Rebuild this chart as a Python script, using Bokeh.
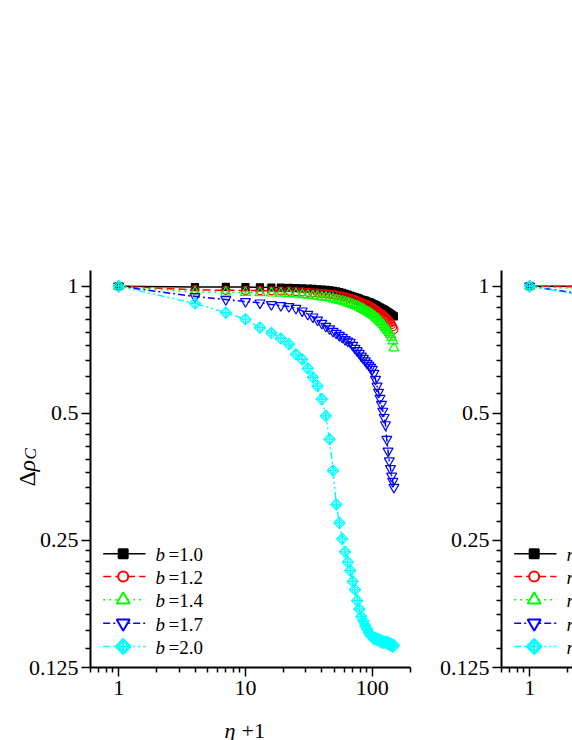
import math
from bokeh.plotting import figure
from bokeh.models import Range1d, FixedTicker, Label
from bokeh.layouts import row
from bokeh.embed import file_html
from bokeh.resources import INLINE

# ---------------- data ----------------
eta_plus_1 = [1, 4, 7, 10, 13, 16, 19, 22, 25, 28,
              31, 34, 37, 40, 43, 46, 49, 52, 55, 58,
              61, 64, 67, 70, 73, 76, 79, 82, 85, 88,
              91, 94, 97, 100, 103, 106, 109, 112, 115, 118,
              121, 124, 127, 130, 133, 136, 139, 142, 145, 148]

drho_b10 = [1.0, 0.995, 0.996, 0.995, 0.994, 0.993, 0.992, 0.991, 0.990, 0.988,
            0.987, 0.985, 0.983, 0.982, 0.980, 0.978, 0.975, 0.972, 0.968, 0.964,
            0.959, 0.955, 0.950, 0.946, 0.942, 0.938, 0.934, 0.930, 0.927, 0.924,
            0.920, 0.917, 0.914, 0.910, 0.906, 0.902, 0.898, 0.894, 0.890, 0.886,
            0.883, 0.879, 0.875, 0.871, 0.867, 0.863, 0.859, 0.855, 0.852, 0.848]

drho_b12 = [1.0, 0.980, 0.978, 0.977, 0.976, 0.975, 0.974, 0.973, 0.971, 0.969,
            0.967, 0.965, 0.963, 0.961, 0.959, 0.957, 0.955, 0.952, 0.949, 0.946,
            0.943, 0.940, 0.936, 0.932, 0.928, 0.924, 0.920, 0.916, 0.912, 0.908,
            0.904, 0.900, 0.895, 0.890, 0.885, 0.880, 0.875, 0.870, 0.865, 0.860,
            0.855, 0.849, 0.844, 0.838, 0.832, 0.826, 0.819, 0.811, 0.802, 0.790]

drho_b14 = [1.0, 0.968, 0.967, 0.966, 0.965, 0.963, 0.962, 0.960, 0.958, 0.955,
            0.952, 0.949, 0.946, 0.943, 0.940, 0.937, 0.933, 0.929, 0.925, 0.921,
            0.917, 0.913, 0.909, 0.905, 0.900, 0.896, 0.891, 0.886, 0.881, 0.876,
            0.871, 0.866, 0.861, 0.856, 0.850, 0.844, 0.838, 0.831, 0.824, 0.818,
            0.811, 0.804, 0.797, 0.790, 0.783, 0.776, 0.768, 0.757, 0.742, 0.714]

drho_b17 = [1.0, 0.945, 0.930, 0.920, 0.913, 0.905, 0.900, 0.895, 0.887, 0.874,
            0.858, 0.846, 0.832, 0.817, 0.804, 0.793, 0.782, 0.774, 0.765, 0.757,
            0.748, 0.742, 0.737, 0.725, 0.713, 0.704, 0.694, 0.683, 0.675, 0.666,
            0.657, 0.650, 0.643, 0.636, 0.622, 0.602, 0.580, 0.561, 0.543, 0.525,
            0.506, 0.489, 0.470, 0.434, 0.407, 0.386, 0.370, 0.355, 0.345, 0.334]

drho_b20 = [1.0, 0.910, 0.866, 0.835, 0.798, 0.775, 0.752, 0.729, 0.690, 0.671,
            0.639, 0.608, 0.580, 0.540, 0.493, 0.434, 0.366, 0.304, 0.275, 0.252,
            0.235, 0.222, 0.212, 0.200, 0.191, 0.180, 0.172, 0.165, 0.161, 0.157,
            0.154, 0.151, 0.149, 0.148, 0.146, 0.147, 0.145, 0.146, 0.144, 0.145,
            0.143, 0.144, 0.143, 0.144, 0.142, 0.143, 0.141, 0.142, 0.140, 0.141]

b_labels = ["=1.0", "=1.2", "=1.4", "=1.7", "=2.0"]

# right panel (only its first part is visible)
eta_plus_1_r = [1, 4]
drho_r1 = [1.0, 1.0]
drho_r2 = [1.0, 0.995]
drho_r3 = [1.0, 0.98]
drho_r4 = [1.0, 0.94]
drho_r5 = [1.0, 0.93]

x_major = [1, 10, 100]
x_major_labels = ["1", "10", "100"]
x_minor = [0.6, 0.7, 0.8, 0.9, 2, 3, 4, 5, 6, 7, 8, 9,
           20, 30, 40, 50, 60, 70, 80, 90, 200]
y_major = [0.125, 0.25, 0.5, 1]
y_major_labels = ["0.125", "0.25", "0.5", "1"]
y_minor = [a * (1 + k / 9.0) for a in (0.125, 0.25, 0.5) for k in range(1, 9)]

X_AXIS = (0.6, 200.0)      # extent of the drawn x axis
Y_AXIS = (0.125, 1.09)     # extent of the drawn y axis

# ---------------- styles / layout ----------------
colors = ["#000000", "#ff0000", "#00ff00", "#0000ff", "#00ffff"]
markers = ["square", "circle", "triangle", "inverted_triangle", "square_x"]
angles = [0, 0, 0, 0, math.pi / 4]
dashes = ["solid", "8 4", "2 4", "7 3 2 3", "7 3 2 3 2 3"]
msizes = [7, 8, 10, 10, 8]
leg_sizes = [9, 10, 13, 13, 10.5]

FONT = "Liberation Serif"
HC = 740                   # canvas height
PXD = 126.84               # pixels per decade on x
PXO = 127.1                # pixels per octave on y
AXIS_X_PX = 667            # y pixel of the x axis (value 0.125)


class Mapper:
    def __init__(self, canvas_left, canvas_width, axis_left_px):
        self.left = canvas_left
        self.x0 = X_AXIS[0] * 10 ** (-(axis_left_px - canvas_left) / PXD)
        self.x1 = X_AXIS[0] * 10 ** ((canvas_left + canvas_width - axis_left_px) / PXD)
        self.y0 = Y_AXIS[0] * 2 ** (-(HC - AXIS_X_PX) / PXO)
        self.y1 = Y_AXIS[0] * 2 ** (AXIS_X_PX / PXO)

    def fx(self, px):
        return self.x0 * 10 ** ((px - self.left) / PXD)

    def fy(self, py):
        return self.y0 * 2 ** ((HC - py) / PXO)


def make_fig(width, m):
    p = figure(width=width, height=HC, x_axis_type="log", y_axis_type="log",
               x_range=Range1d(m.x0, m.x1), y_range=Range1d(m.y0, m.y1),
               output_backend="svg", toolbar_location=None,
               min_border_left=0, min_border_right=0,
               min_border_top=0, min_border_bottom=0)
    p.grid.visible = False
    p.outline_line_color = None
    p.background_fill_color = "white"
    p.border_fill_color = "white"
    xa, ya = p.xaxis[0], p.yaxis[0]
    xa.fixed_location = Y_AXIS[0]
    ya.fixed_location = X_AXIS[0]
    xa.bounds = X_AXIS
    ya.bounds = Y_AXIS
    xa.ticker = FixedTicker(ticks=x_major, minor_ticks=x_minor)
    ya.ticker = FixedTicker(ticks=y_major, minor_ticks=y_minor)
    xa.major_label_overrides = dict(zip(x_major, x_major_labels))
    ya.major_label_overrides = dict(zip(y_major, y_major_labels))
    for ax in (xa, ya):
        ax.axis_line_width = 2
        ax.axis_line_color = "black"
        ax.major_tick_line_width = 1.5
        ax.minor_tick_line_width = 1.5
        ax.major_tick_line_color = "black"
        ax.minor_tick_line_color = "black"
        ax.major_tick_out = 9
        ax.major_tick_in = 0
        ax.minor_tick_out = 5
        ax.minor_tick_in = 0
        ax.major_label_text_font = FONT
        ax.major_label_text_font_size = "22px"
        ax.major_label_text_color = "black"
    xa.major_label_standoff = 4
    ya.major_label_standoff = 3
    return p


def draw_marker(p, xs, ys, i, size, lw, fill):
    c, mk = colors[i], markers[i]
    p.scatter(xs, ys, marker=mk, size=size, angle=angles[i], line_color=c,
              line_width=lw, fill_color=fill)
    if mk == "square_x":   # diamond with a circled cross
        p.scatter(xs, ys, marker="circle", size=size * 0.72, line_color=c,
                  line_width=lw * 0.8, fill_color=None)


def draw_series(p, xs, ys_list):
    for i, ys in enumerate(ys_list):
        p.line(xs, ys, line_color=colors[i], line_width=1.5, line_dash=dashes[i])
        draw_marker(p, xs, ys, i, msizes[i], 1.2,
                    colors[i] if markers[i] == "square" else None)


def draw_legend(p, m, axis_left_px, sym, texts):
    rows = [553.3, 576.0, 599.3, 622.7, 646.0]
    for i, ry in enumerate(rows):
        p.line([m.fx(axis_left_px + 12.7), m.fx(axis_left_px + 55)],
               [m.fy(ry), m.fy(ry)], line_color=colors[i], line_width=1.5,
               line_dash=dashes[i])
        draw_marker(p, [m.fx(axis_left_px + 32.7)], [m.fy(ry)], i, leg_sizes[i], 2,
                    colors[i] if markers[i] == "square" else "white")
        p.add_layout(Label(x=m.fx(axis_left_px + 65), y=m.fy(ry + 1), text=sym,
                           text_font=FONT, text_font_size="19px",
                           text_font_style="italic", text_baseline="middle",
                           text_align="left", text_color="black"))
        if texts:
            p.add_layout(Label(x=m.fx(axis_left_px + 78), y=m.fy(ry + 1),
                               text=texts[i], text_font=FONT,
                               text_font_size="19px", text_baseline="middle",
                               text_align="left", text_color="black"))


# ---------------- left panel ----------------
W1 = 430
m1 = Mapper(0, W1, 90)
p1 = make_fig(W1, m1)
draw_series(p1, eta_plus_1, [drho_b10, drho_b12, drho_b14, drho_b17, drho_b20])
draw_legend(p1, m1, 90, "b", b_labels)

# y axis title  (Δρ_C)
p1.add_layout(Label(x=m1.fx(26), y=m1.fy(486), text="Δ", text_font=FONT,
                    text_font_size="24px", angle=math.pi / 2,
                    text_baseline="alphabetic", text_align="left",
                    text_color="black"))
p1.add_layout(Label(x=m1.fx(26), y=m1.fy(471), text="ρ", text_font=FONT,
                    text_font_size="24px", text_font_style="italic",
                    angle=math.pi / 2, text_baseline="alphabetic",
                    text_align="left", text_color="black"))
p1.add_layout(Label(x=m1.fx(30), y=m1.fy(459), text="C", text_font=FONT,
                    text_font_size="17px", text_font_style="italic",
                    angle=math.pi / 2, text_baseline="alphabetic",
                    text_align="left", text_color="black"))
# x axis title  (η +1)
p1.add_layout(Label(x=m1.fx(224), y=m1.fy(730), text="η", text_font=FONT,
                    text_font_size="22px", text_font_style="italic",
                    text_baseline="alphabetic", text_align="left",
                    text_color="black"))
p1.add_layout(Label(x=m1.fx(241), y=m1.fy(730), text="+1", text_font=FONT,
                    text_font_size="22px", text_baseline="alphabetic",
                    text_align="left", text_color="black"))

# ---------------- right panel (cut by the window edge) ----------------
W2 = 142
m2 = Mapper(W1, W2, 501)
p2 = make_fig(W2, m2)
draw_series(p2, eta_plus_1_r, [drho_r1, drho_r2, drho_r3, drho_r4, drho_r5])
draw_legend(p2, m2, 501, "r", None)

layout = row(p1, p2)
open("out.html", "w").write(file_html(layout, INLINE))
